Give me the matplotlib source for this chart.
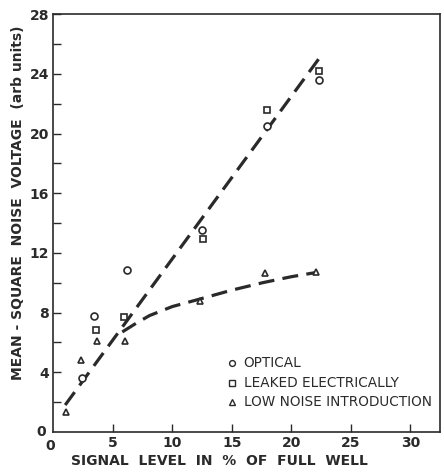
import matplotlib.pyplot as plt
import numpy as np

# data
opt_x = [2.4, 3.4, 6.2, 12.5, 18.0, 22.3]
opt_y = [3.6, 7.8, 10.85, 13.5, 20.5, 23.6]
leak_x = [3.55, 5.95, 12.55, 18.0, 22.3]
leak_y = [6.8, 7.7, 12.9, 21.6, 24.2]
low_x = [1.05, 2.3, 3.7, 6.0, 12.3, 17.8, 22.1]
low_y = [1.3, 4.8, 6.1, 6.1, 8.8, 10.65, 10.7]

# dashed fit lines
line_x = [1.0, 22.4]
line_y = [1.8, 25.1]
curve_x = [5.8, 7.0, 8.1, 10.0, 12.3, 15.0, 17.6, 20.0, 22.2]
curve_y = [6.7, 7.3, 7.8, 8.4, 8.9, 9.5, 10.0, 10.4, 10.7]

ink = '#2a2a2a'
plt.rcParams['font.family'] = 'DejaVu Sans'

fig = plt.figure(figsize=(4.44, 4.72), dpi=100)
ax = fig.add_axes([0.12, 0.085, 0.871, 0.885])

ax.plot(line_x, line_y, color=ink, lw=2.3, dashes=(5, 2.6))
ax.plot(curve_x, curve_y, color=ink, lw=2.3, dashes=(5, 2.6))

mk = dict(linestyle='none', mfc='white', mec=ink, mew=1.2, ms=5)
ax.plot(opt_x, opt_y, marker='o', **mk)
ax.plot(leak_x, leak_y, marker='s', **mk)
ax.plot(low_x, low_y, marker='^', **mk)

ax.set_xlim(0, 32.5)
ax.set_ylim(0, 28)
ax.set_xticks([5, 10, 15, 20, 25, 30])
ax.set_yticks([4, 8, 12, 16, 20, 24, 28])
ax.set_yticks([2, 6, 10, 14, 18, 22, 26], minor=True)
ax.tick_params(direction='in', length=6, width=1, colors=ink, labelsize=10, pad=3)
ax.tick_params(which='minor', direction='in', length=6, width=1, colors=ink)
for t in ax.get_xticklabels() + ax.get_yticklabels():
    t.set_fontweight('bold')
for s in ax.spines.values():
    s.set_color(ink)
    s.set_linewidth(1.2)

# origin zeros
ax.text(-0.6, 0, '0', ha='right', va='center', fontsize=10, color=ink, fontweight='bold')
ax.text(-0.3, -0.5, '0', ha='center', va='top', fontsize=10, color=ink, fontweight='bold')

ax.set_xlabel('SIGNAL  LEVEL  IN  %  OF  FULL  WELL', fontsize=10, color=ink,
              fontweight='bold', labelpad=2)
ax.set_ylabel('MEAN - SQUARE  NOISE  VOLTAGE  (arb units)', fontsize=10,
              color=ink, fontweight='bold')
ax.xaxis.set_label_coords(0.43, -0.052)
ax.yaxis.set_label_coords(-0.074, 0.548)

# legend drawn as text rows
leg = [('o', 'OPTICAL', 4.6), ('s', 'LEAKED ELECTRICALLY', 3.3), ('^', 'LOW NOISE INTRODUCTION', 2.0)]
for m, lab, yy in leg:
    ax.plot([15.0], [yy], marker=m, linestyle='none', mfc='white', mec=ink,
            mew=1.0, ms=4.2)
    ax.text(16.0, yy, lab, va='center', ha='left', fontsize=9.8, color=ink)

fig.savefig('out.png', dpi=100)
